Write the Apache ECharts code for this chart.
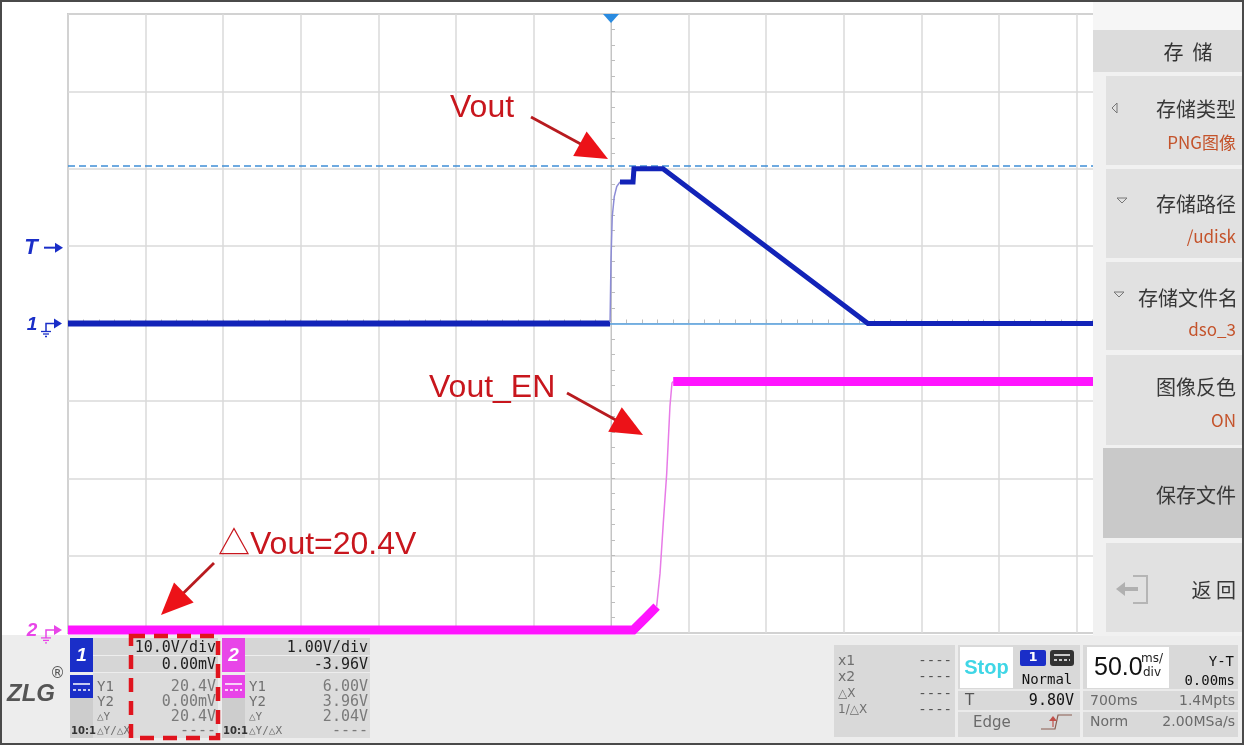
<!DOCTYPE html>
<html><head><meta charset="utf-8">
<script src="https://cdn.jsdelivr.net/npm/echarts@6/dist/echarts.min.js"></script>
<style>html,body{margin:0;padding:0;background:#fff}#c{width:1247px;height:747px}</style>
</head><body><div id="c"></div>
<script>
// ---------------- data (time in ms, values in volts) ----------------
const ch1LowT   = [-350, -0.6];
const ch1LowV   = [0, 0];
const ch1EdgeT  = [-0.6, 0, 0.8, 2.1, 3.7, 5.8];
const ch1EdgeV  = [0.2, 8.2, 13.8, 16.4, 17.7, 18.3];
const ch1PulseT = [5.8, 14.2, 14.8, 33.5, 165.6, 350];
const ch1PulseV = [18.3, 18.3, 20.0, 20.0, 0, 0];

const ch2LowT   = [-350, 14.4, 23, 29.4];
const ch2LowV   = [0, 0, 0.17, 0.30];
const ch2EdgeT  = [29.4, 31.6, 33.7, 35.9, 38, 39.3, 40.1];
const ch2EdgeV  = [0.30, 0.73, 1.38, 2.02, 2.89, 3.19, 3.21];
const ch2HighT  = [40.1, 350];
const ch2HighV  = [3.21, 3.21];

const cursorY1 = 20.4, cursorY2 = 0;
const trigLevel = 9.80;
const ch1Scale = 10, ch1Offset = 0;      // V/div, V
const ch2Scale = 1,  ch2Offset = -3.96;  // V/div, V
const timeScale = 50;                    // ms/div
const hDivs = 14, vDivs = 8;

const ch1Info = ['10.0V/div', '0.00mV', '20.4V', '0.00mV', '20.4V', '----'];
const ch2Info = ['1.00V/div', '-3.96V', '6.00V', '3.96V', '2.04V', '----'];
const rowLabels = ['Y1', 'Y2', '△Y', '△Y/△X'];
const cursorLabels = ['x1', 'x2', '△X', '1/△X'];
const menuTitle = '存  储';
const menuItems = [['存储类型', 'PNG图像'], ['存储路径', '/udisk'], ['存储文件名', 'dso_3'], ['图像反色', 'ON'], ['保存文件', ''], ['返 回', '']];

// ---------------- chart ----------------
const zip = (a, b) => a.map((t, i) => [t, b[i]]);
const chart = echarts.init(document.getElementById('c'), null, {renderer: 'canvas', width: 1247, height: 747});

const BLUE = '#1223b8', MAG = '#ff14ff';
const GRIDC = '#dadada';
const mk = (name, t, v, yi, color, w, z) => ({
  name, type: 'line', yAxisIndex: yi, data: zip(t, v), showSymbol: false, symbol: 'none',
  z: z, lineStyle: {color, width: w, join: 'miter', cap: 'butt'}, silent: true
});

const option = {
  animation: false,
  backgroundColor: '#ffffff',
  grid: {left: 68, top: 14, width: 1086, height: 619, show: true, borderColor: '#a4a4a4', borderWidth: 1.5, backgroundColor: '#ffffff'},
  xAxis: {
    type: 'value', min: -hDivs / 2 * timeScale, max: hDivs / 2 * timeScale, interval: timeScale,
    axisLabel: {show: false},
    axisLine: {show: true, onZero: true, onZeroAxisIndex: 0, lineStyle: {color: '#c4c4c4', width: 1}},
    axisTick: {show: true, inside: true, length: 4, lineStyle: {color: '#bdbdbd'}},
    minorTick: {show: true, splitNumber: 5, length: 4, lineStyle: {color: '#bdbdbd'}},
    splitLine: {show: true, lineStyle: {color: GRIDC, width: 1.5}}
  },
  yAxis: [{
    type: 'value', min: ch1Offset - vDivs / 2 * ch1Scale, max: ch1Offset + vDivs / 2 * ch1Scale, interval: ch1Scale,
    axisLabel: {show: false},
    axisLine: {show: true, onZero: true, lineStyle: {color: '#c4c4c4', width: 1}},
    axisTick: {show: true, inside: true, length: 4, lineStyle: {color: '#bdbdbd'}},
    minorTick: {show: true, splitNumber: 5, length: 4, lineStyle: {color: '#bdbdbd'}},
    splitLine: {show: true, lineStyle: {color: GRIDC, width: 1.5}}
  }, {
    type: 'value', show: false,
    min: -ch2Offset - vDivs / 2 * ch2Scale, max: -ch2Offset + vDivs / 2 * ch2Scale,
    splitLine: {show: false}
  }],
  series: [
    {name: 'cursors', type: 'line', yAxisIndex: 0, data: [[-350, 0], [350, 0]], showSymbol: false, symbol: 'none', z: 1,
     lineStyle: {opacity: 0, width: 0}, silent: true,
     markLine: {silent: true, z: 1, symbol: ['none', 'none'], label: {show: false}, animation: false,
       data: [{yAxis: cursorY1, lineStyle: {type: [7, 4], color: '#3f8fd6', width: 1.5}},
              {yAxis: cursorY2, lineStyle: {type: 'solid', color: '#5aa6e6', width: 1.5}}]}},
    mk('CH2 low', ch2LowT, ch2LowV, 1, MAG, 9, 3),
    mk('CH2 edge', ch2EdgeT, ch2EdgeV, 1, '#e77be7', 1.5, 3),
    mk('CH2 high', ch2HighT, ch2HighV, 1, MAG, 9, 3),
    mk('CH1 low', ch1LowT, ch1LowV, 0, BLUE, 6, 4),
    mk('CH1 edge', ch1EdgeT, ch1EdgeV, 0, '#8c8cd6', 1.5, 4),
    mk('CH1 pulse', ch1PulseT, ch1PulseV, 0, BLUE, 5, 4)
  ]
};
chart.setOption(option);

// ---------------- decorations ----------------
const G = [];
const MONO = '"DejaVu Sans Mono", monospace';
const SANS = '"DejaVu Sans", sans-serif';
const CJK = '"Noto Sans CJK SC", sans-serif';
const ARIAL = '"Liberation Sans", "Noto Sans CJK SC", sans-serif';
function R(x, y, w, h, fill, o) {
  G.push({type: 'rect', z: 50, silent: true, shape: {x, y, width: w, height: h, r: (o && o.r) || 0},
    style: {fill: fill, stroke: (o && o.stroke) || null, lineWidth: (o && o.lw) || 0, lineDash: (o && o.dash) || null}});
}
function T(x, y, s, font, fill, align, z) {
  G.push({type: 'text', x: x, y: y, z: z || 60, silent: true,
    style: {text: s, font: font, fill: fill || '#333', align: align || 'left', textAlign: align || 'left',
            verticalAlign: 'middle', textVerticalAlign: 'middle'}});
}
function L(pts, stroke, lw, dash, z) {
  G.push({type: 'polyline', z: z || 55, silent: true, shape: {points: pts}, style: {stroke, lineWidth: lw, fill: null, lineDash: dash || null}});
}
function P(pts, fill, z) {
  G.push({type: 'polygon', z: z || 55, silent: true, shape: {points: pts}, style: {fill}});
}
function arrow(x1, y1, x2, y2, lineColor, headColor, lw, hl, hw) {
  const dx = x2 - x1, dy = y2 - y1, len = Math.hypot(dx, dy);
  const ux = dx / len, uy = dy / len, nx = -uy, ny = ux;
  const bx = x2 - ux * hl, by = y2 - uy * hl;
  L([[x1, y1], [bx + ux * 4, by + uy * 4]], lineColor, lw, null, 70);
  P([[x2, y2], [bx + nx * hw, by + ny * hw], [bx - nx * hw, by - ny * hw]], headColor, 71);
}
const px = (t, v, yi) => chart.convertToPixel({xAxisIndex: 0, yAxisIndex: yi}, [t, v]);

// right menu panel
R(1093, 2, 150, 634, '#f1f1f1');
R(1093, 2, 150, 28, '#f6f6f6');
R(1093, 30, 150, 42, '#dcdcdc');
T(1188, 52, menuTitle, '20px ' + CJK, '#333', 'center');
const btnY = [[76, 165], [169, 258], [262, 350], [355, 445], [448, 538], [543, 632]];
btnY.forEach((b, i) => {
  const x0 = i === 4 ? 1103 : 1106;
  R(x0, b[0], 1242 - x0, b[1] - b[0], i === 4 ? '#c9c9c9' : '#e1e1e1');
});
T(1236, 109, menuItems[0][0], '20px ' + CJK, '#383838', 'right');
T(1236, 143, menuItems[0][1], '17px ' + CJK, '#c4532b', 'right');
T(1236, 204, menuItems[1][0], '20px ' + CJK, '#383838', 'right');
T(1236, 237, menuItems[1][1], '17px ' + CJK, '#c4532b', 'right');
T(1238, 298, menuItems[2][0], '20px ' + CJK, '#383838', 'right');
T(1236, 330, menuItems[2][1], '17px ' + CJK, '#c4532b', 'right');
T(1236, 387, menuItems[3][0], '20px ' + CJK, '#383838', 'right');
T(1236, 421, menuItems[3][1], '17px ' + CJK, '#c4532b', 'right');
T(1236, 495, menuItems[4][0], '20px ' + CJK, '#383838', 'right');
T(1236, 590, menuItems[5][0], '20px ' + CJK, '#383838', 'right');
// small triangles in menu
L([[1117, 103], [1112, 108], [1117, 113], [1117, 103]], '#777', 1, null, 60);
L([[1117, 198], [1127, 198], [1122, 203], [1117, 198]], '#777', 1, null, 60);
L([[1114, 292], [1124, 292], [1119, 297], [1114, 292]], '#777', 1, null, 60);
// exit icon
L([[1133, 576], [1147, 576], [1147, 603], [1133, 603]], '#b5b5b5', 2, null, 60);
L([[1122, 589], [1138, 589]], '#b0b0b0', 4, null, 60);
P([[1116, 589], [1125, 582], [1125, 596]], '#b0b0b0', 60);

// bottom status bar
R(2, 635, 1091, 110, '#ededed');
R(1093, 636, 150, 109, '#ededed');
// logo
T(7, 694, 'ZLG', 'italic bold 24px ' + ARIAL, '#555', 'left');
T(50, 674, '®', '15px ' + SANS, '#555', 'left');

function chBlock(x0, color, num, info) {
  R(x0, 638, 23, 34, color);
  T(x0 + 11.5, 656, num, 'italic bold 19px ' + ARIAL, '#ffffff', 'center');
  R(x0, 675, 23, 23, color);
  L([[x0 + 3, 684], [x0 + 20, 684]], '#ffffff', 1.5, null, 60);
  L([[x0 + 3, 690], [x0 + 20, 690]], '#ffffff', 1.5, [3, 2], 60);
  R(x0, 698, 23, 40, '#cdcdcd');
  T(x0 + 1, 731, '10:1', 'bold 10px ' + SANS, '#333', 'left');
  R(x0 + 23, 638, 125, 34, '#d6d6d6');
  L([[x0 + 23, 655.5], [x0 + 148, 655.5]], '#eeeeee', 1, null, 56);
  R(x0 + 23, 673, 125, 65, '#dcdcdc');
  T(x0 + 146, 648, info[0], '15px ' + MONO, '#1e1e1e', 'right');
  T(x0 + 146, 665, info[1], '15px ' + MONO, '#1e1e1e', 'right');
  const ys = [687, 702, 717, 731];
  rowLabels.forEach((lb, i) => T(x0 + 27, ys[i], lb, (i >= 2 ? '11px ' : '14px ') + MONO, '#707070', 'left'));
  for (let i = 0; i < 4; i++) T(x0 + 146, ys[i], info[2 + i], '15px ' + MONO, '#7a7a7a', 'right');
}
chBlock(70, '#1a2ec8', '1', ch1Info);
chBlock(222, '#e845e8', '2', ch2Info);

// cursor block
R(834, 645, 121, 92, '#d9d9d9');
[661, 677, 694, 710].forEach((y, i) => {
  T(838, y, cursorLabels[i], (i >= 2 ? '12px ' : '14px ') + SANS, '#707070', 'left');
  T(952, y, '----', '14px ' + MONO, '#555', 'right');
});
// trigger block
R(958, 645, 122, 92, '#d9d9d9');
R(960, 647, 53, 41, '#ffffff');
T(986.5, 668, 'Stop', 'bold 20px ' + ARIAL, '#3fd6e6', 'center');
R(1020, 650, 26, 16, '#1a2ec8', {r: 2});
T(1033, 658, '1', 'bold 13px ' + SANS, '#ffffff', 'center');
R(1050, 650, 24, 16, '#333333', {r: 3});
L([[1054, 655], [1070, 655]], '#ffffff', 1.5, null, 60);
L([[1054, 660], [1070, 660]], '#ffffff', 1.5, [3, 2], 60);
T(1047, 680, 'Normal', '14px ' + MONO, '#111', 'center');
L([[958, 690], [1080, 690]], '#efefef', 1.5, null, 56);
L([[958, 711], [1080, 711]], '#efefef', 1.5, null, 56);
T(965, 701, 'T', '15px ' + SANS, '#555', 'left');
T(1074, 701, '9.80V', '15px ' + MONO, '#111', 'right');
T(973, 723, 'Edge', '15px ' + SANS, '#6a6a6a', 'left');
L([[1041, 729], [1055, 729], [1058, 715], [1072, 715]], '#8b5e52', 1.2, null, 60);
L([[1053, 727], [1053, 719]], '#c0504a', 1.2, null, 60);
P([[1049, 721], [1057, 721], [1053, 716]], '#c0504a', 60);
// timebase block
R(1083, 645, 155, 92, '#d9d9d9');
R(1087, 647, 82, 41, '#ffffff');
T(1094, 668, '50.0', '25px ' + ARIAL, '#111', 'left');
T(1152, 659, 'ms/', '12px ' + SANS, '#222', 'center');
T(1152, 673, 'div', '12px ' + SANS, '#222', 'center');
T(1234, 662, 'Y-T', '14px ' + MONO, '#111', 'right');
T(1235, 681, '0.00ms', '14px ' + MONO, '#111', 'right');
L([[1083, 690], [1238, 690]], '#efefef', 1.5, null, 56);
L([[1083, 711], [1238, 711]], '#efefef', 1.5, null, 56);
T(1090, 701, '700ms', '14px ' + SANS, '#6a6a6a', 'left');
T(1235, 701, '1.4Mpts', '14px ' + SANS, '#6a6a6a', 'right');
T(1090, 722, 'Norm', '14px ' + SANS, '#6a6a6a', 'left');
T(1235, 722, '2.00MSa/s', '14px ' + SANS, '#6a6a6a', 'right');

// left channel / trigger markers (positions from axes)
const pT = px(0, trigLevel, 0), p1 = px(0, 0, 0), p2 = px(0, 0, 1);
const CB = '#1a2ec8', CM = '#e845e8';
T(31, pT[1], 'T', 'italic bold 22px ' + ARIAL, CB, 'center');
L([[44, pT[1]], [56, pT[1]]], CB, 2, null, 60);
P([[55, pT[1] - 5], [63, pT[1]], [55, pT[1] + 5]], CB, 60);
function gndMarker(y, num, c) {
  T(32, y + 1, num, 'italic bold 19px ' + ARIAL, c, 'center');
  L([[46, y + 8], [46, y], [55, y]], c, 1.5, null, 60);
  P([[54, y - 5], [62, y], [54, y + 5]], c, 60);
  L([[41, y + 8], [51, y + 8]], c, 1.3, null, 60);
  L([[43, y + 10.5], [49, y + 10.5]], c, 1.3, null, 60);
  L([[45, y + 13], [47, y + 13]], c, 1.3, null, 60);
}
gndMarker(p1[1], '1', CB);
gndMarker(Math.min(p2[1], 632), '2', CM);
// trigger position marker on top
P([[pT[0] - 8, 14], [pT[0] + 8, 14], [pT[0], 23]], '#2a8be0', 60);

// red annotations
const RT = '#c8161d', RL = '#b81b1f', RA = '#ec1218';
T(450, 108, 'Vout', '32px ' + ARIAL, RT, 'left', 70);
T(429, 388, 'Vout_EN', '32px ' + ARIAL, RT, 'left', 70);
T(218, 545, '△Vout=20.4V', '32px ' + ARIAL, RT, 'left', 70);
arrow(531, 117, 608, 159, RL, RA, 2.8, 32, 14);
arrow(567, 393, 643, 435, RL, RA, 2.8, 32, 14);
arrow(214, 563, 161, 615, RL, RA, 2.8, 32, 14);
R(131, 636, 87, 102, null, {stroke: '#e0141e', lw: 4.5, dash: [14, 9]});
G[G.length - 1].z = 72;

// outer frame
R(1, 1, 1242, 743, null, {stroke: '#4a4a4a', lw: 2});
G[G.length - 1].z = 80;

chart.setOption({graphic: {elements: G}});
</script>
</body></html>
